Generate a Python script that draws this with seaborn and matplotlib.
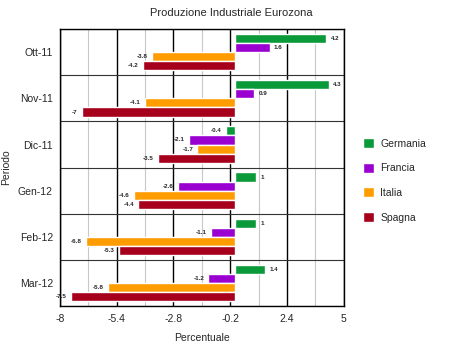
import numpy as np
import pandas as pd
import matplotlib
matplotlib.use("Agg")
import matplotlib.pyplot as plt
import seaborn as sns

periodi = ["Ott-11", "Nov-11", "Dic-11", "Gen-12", "Feb-12", "Mar-12"]
paesi = ["Germania", "Francia", "Italia", "Spagna"]
germania = [4.2, 4.3, -0.4, 1, 1, 1.4]
francia = [1.6, 0.9, -2.1, -2.6, -1.1, -1.2]
italia = [-3.8, -4.1, -1.7, -4.6, -6.8, -5.8]
spagna = [-4.2, -7, -3.5, -4.4, -5.3, -7.5]
colori = ["#0a9a3a", "#9a00d0", "#ff9c00", "#a6001c"]
xticks = [-8, -5.4, -2.8, -0.2, 2.4, 5]

rows = []
for nome, vals in zip(paesi, [germania, francia, italia, spagna]):
    for p, v in zip(periodi, vals):
        rows.append({"Periodo": p, "Percentuale": v, "Paese": nome})
df = pd.DataFrame(rows)

sns.set_style("white")
plt.rcParams["font.family"] = ["Liberation Sans", "DejaVu Sans"]

fig = plt.figure(figsize=(4.5, 3.47), dpi=100)
ax = fig.add_axes([0.133, 0.118, 0.631, 0.798])

sns.barplot(data=df, y="Periodo", x="Percentuale", hue="Paese", order=periodi,
            hue_order=paesi, palette=colori, orient="h", width=0.79,
            saturation=1, ax=ax, legend=True, errorbar=None)

for cont in ax.containers:
    ax.bar_label(cont, fmt="%g", padding=3, fontsize=4.5, fontweight="bold")

ax.set_xlim(-8, 5)
ax.set_ylim(5.5, -0.5)
ax.set_xticks(xticks)
ax.set_xticklabels([f"{t:g}" for t in xticks])
ax.set_xticks([(a + b) / 2 for a, b in zip(xticks[:-1], xticks[1:])], minor=True)
ax.set_yticks(np.arange(-0.5, 6, 1), minor=True)
ax.set_axisbelow(True)
ax.grid(True, which="major", axis="x", color="black", lw=1)
ax.grid(True, which="minor", axis="x", color="#c8c8c8", lw=0.8)
ax.grid(True, which="minor", axis="y", color="#333333", lw=0.8)
ax.tick_params(axis="x", which="major", length=4, width=1, color="black", labelsize=7.5, pad=2)
ax.tick_params(axis="x", which="minor", length=0)
ax.tick_params(axis="y", which="major", length=0, labelsize=7.5, pad=5)
ax.tick_params(axis="y", which="minor", length=6, width=0.8, color="#333333")
for s in ax.spines.values():
    s.set_color("black")
    s.set_linewidth(1)

ax.set_xlabel("Percentuale", fontsize=7.5, labelpad=6)
ax.set_ylabel("Periodo", fontsize=7.5)
ax.yaxis.set_label_coords(-0.17, 0.5)
fig.text(0.515, 0.962, "Produzione Industriale Eurozona", ha="center", va="center", fontsize=8)

handles, labels = ax.get_legend_handles_labels()
ax.legend(handles, labels, loc="center left", bbox_to_anchor=(0.785, 0.48),
          bbox_transform=fig.transFigure, frameon=False, fontsize=7.5,
          handlelength=1.1, handleheight=1.1, labelspacing=1.35, handletextpad=0.6)

fig.savefig("out.png", dpi=100)
